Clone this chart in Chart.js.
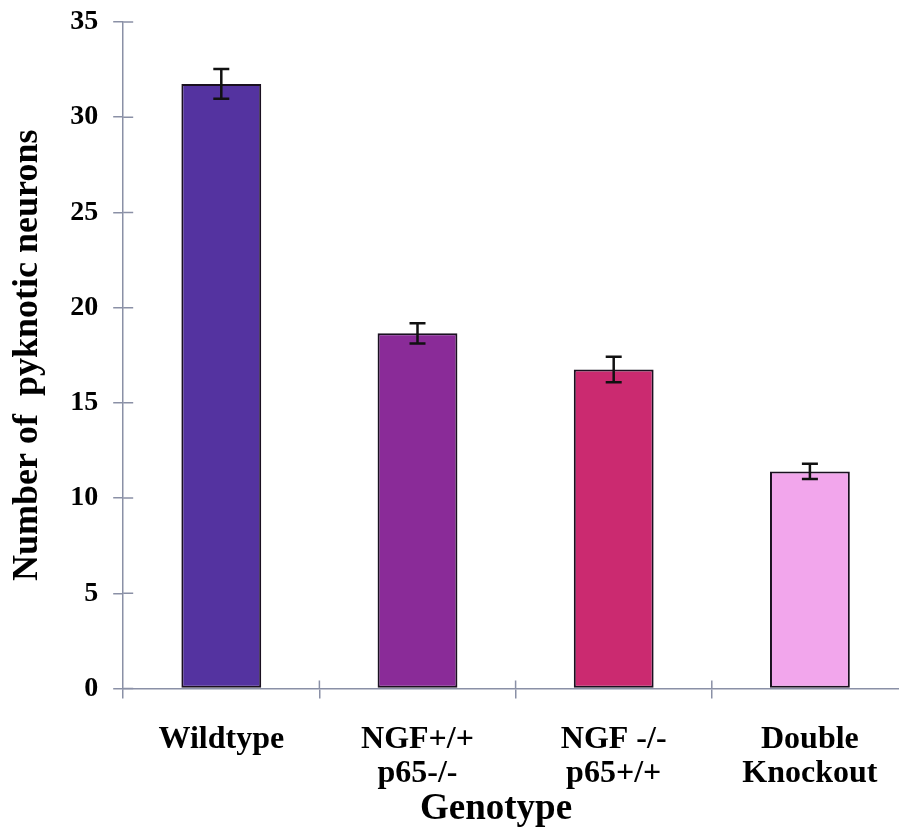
<!DOCTYPE html>
<html>
<head>
<meta charset="utf-8">
<script src="https://cdn.jsdelivr.net/npm/chart.js@4/dist/chart.umd.min.js"></script>
<style>
html,body{margin:0;padding:0;background:#fff;overflow:hidden;}
#wrap{width:908px;height:830px;position:relative;}
</style>
</head>
<body>
<div id="wrap"><canvas id="c" width="908" height="830"></canvas></div>
<script>
const categories = [["Wildtype"], ["NGF+/+", "p65-/-"], ["NGF -/-", "p65+/+"], ["Double", "Knockout"]];
const meanValues = [31.75, 18.65, 16.75, 11.4];
const errorValues = [0.78, 0.53, 0.67, 0.4];
const barColors = ["#5433a0", "#8a2b98", "#cb2a70", "#f2a6ec"];
const yTicks = [0, 5, 10, 15, 20, 25, 30, 35];
const xTitle = "Genotype";

const axisColor = "#8a90a6";
const serif = "'Liberation Serif', 'Times New Roman', serif";

const errorBarPlugin = {
  id: 'errorBars',
  afterDatasetsDraw(chart) {
    const ctx = chart.ctx;
    const meta = chart.getDatasetMeta(0);
    const y = chart.scales.y;
    ctx.save();
    ctx.strokeStyle = '#111';
    ctx.lineWidth = 2.5;
    meta.data.forEach((bar, i) => {
      const x = bar.x;
      const top = y.getPixelForValue(meanValues[i] + errorValues[i]);
      const bot = y.getPixelForValue(meanValues[i] - errorValues[i]);
      ctx.beginPath();
      ctx.moveTo(x, top); ctx.lineTo(x, bot);
      ctx.moveTo(x - 8, top); ctx.lineTo(x + 8, top);
      ctx.moveTo(x - 8, bot); ctx.lineTo(x + 8, bot);
      ctx.stroke();
    });
    ctx.restore();
  }
};

const innerTicksPlugin = {
  id: 'innerTicks',
  afterDraw(chart) {
    const ctx = chart.ctx;
    const ys = chart.scales.y;
    const area = chart.chartArea;
    ctx.save();
    ctx.strokeStyle = axisColor;
    ctx.lineWidth = 1.5;
    ctx.beginPath();
    yTicks.forEach(v => {
      const py = ys.getPixelForValue(v);
      ctx.moveTo(area.left, py); ctx.lineTo(area.left + 10, py);
    });
    const n = categories.length;
    for (let i = 1; i < n; i++) {
      const px = area.left + (area.right - area.left) * i / n;
      ctx.moveTo(px, area.bottom); ctx.lineTo(px, area.bottom - 8);
    }
    ctx.stroke();
    // x-axis title, placed as in the original (slightly left of the plot centre)
    ctx.fillStyle = '#000';
    ctx.font = "bold 37px " + serif;
    ctx.textAlign = 'center';
    ctx.textBaseline = 'middle';
    ctx.fillText(xTitle, 496, area.bottom + 121);
    ctx.restore();
  }
};

new Chart(document.getElementById('c'), {
  type: 'bar',
  data: {
    labels: categories,
    datasets: [{
      data: meanValues,
      backgroundColor: barColors,
      borderColor: '#1a1020',
      borderWidth: 2,
      borderSkipped: false,
      barPercentage: 0.407,
      categoryPercentage: 1.0
    }]
  },
  options: {
    responsive: false,
    animation: false,
    devicePixelRatio: 1,
    layout: { padding: { left: 0, right: 0, top: 22, bottom: 15 } },
    plugins: { legend: { display: false }, tooltip: { enabled: false } },
    scales: {
      x: {
        grid: { drawOnChartArea: false, tickLength: 10, color: axisColor, lineWidth: 1.5, offset: true },
        border: { color: axisColor, width: 1.5 },
        ticks: { color: '#000', font: { family: serif, size: 32, weight: 'bold', lineHeight: 1.07 }, padding: 24, maxRotation: 0 },
        title: { display: false }
      },
      y: {
        min: 0, max: 35,
        afterBuildTicks(scale) { scale.ticks = yTicks.map(v => ({ value: v })); },
        afterFit(scale) { scale.paddingTop = 0; scale.paddingBottom = 0; },
        grid: { drawOnChartArea: false, tickLength: 10, color: axisColor, lineWidth: 1.5 },
        border: { color: axisColor, width: 1.5 },
        ticks: { color: '#000', font: { family: serif, size: 28, weight: 'bold' }, padding: 15 },
        title: { display: true, text: 'Number of  pyknotic neurons', color: '#000', font: { family: serif, size: 36, weight: 'bold', lineHeight: 1.2 }, padding: { top: 6, bottom: 6 } }
      }
    }
  },
  plugins: [errorBarPlugin, innerTicksPlugin]
});
</script>
</body>
</html>
